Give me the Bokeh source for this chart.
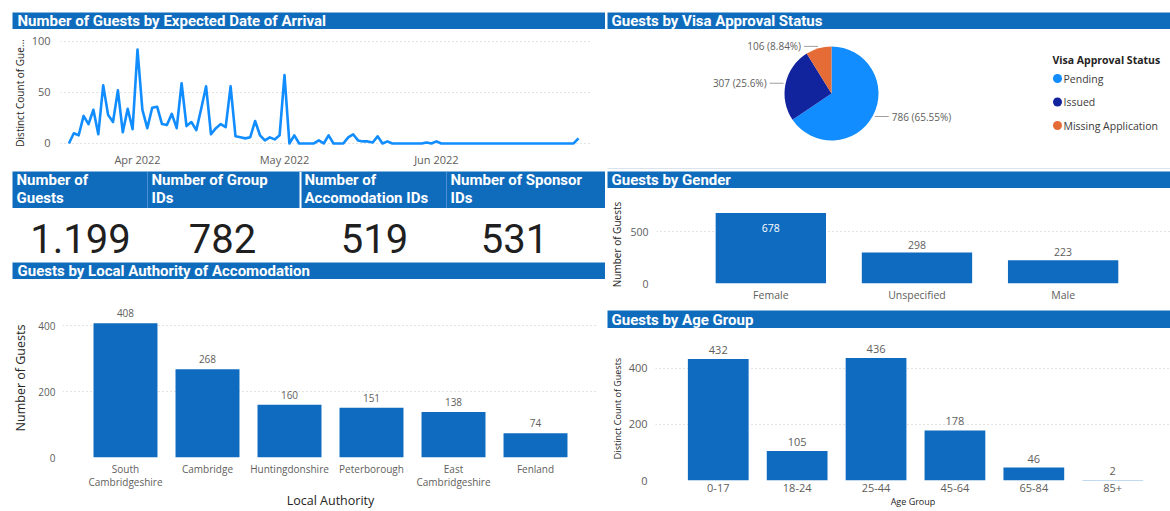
import numpy as np
import pandas as pd
from bokeh.plotting import figure
from bokeh.layouts import column, row
from bokeh.models import (ColumnDataSource, Range1d, FactorRange, FixedTicker,
                          DatetimeTickFormatter, LabelSet, Label, Span)
from bokeh.core.properties import value
from bokeh.embed import file_html
from bokeh.resources import INLINE

# ---------------- data ----------------
arrival_first_day = "2022-03-18"
arrival_guests = [
    0, 10, 8, 27, 19, 33, 9, 57, 28, 21, 52, 11, 34, 14,
    92, 33, 15, 35, 36, 19, 18, 29, 15, 59, 17, 21, 13, 34, 56,
    9, 15, 19, 16, 56, 7, 6, 5, 6, 22, 8, 3, 6, 4, 8, 67,
    0, 8, 0, 0, 0, 0, 3, 0, 8, 0, 0, 0, 6, 9, 3, 2, 2, 1, 7, 0, 2,
    0, 0, 0, 0, 0, 0, 0, 1, 0, 2,
    0, 0, 0, 0, 0, 0, 0, 0, 0, 0, 0, 0, 0, 0,
    0, 0, 0, 0, 0, 0, 0, 0, 0, 0, 0, 0, 0, 0, 5,
]
arrival_ticks = ["2022-04-01", "2022-05-01", "2022-06-01"]

visa_status = ["Pending", "Issued", "Missing Application"]
visa_guests = [786, 307, 106]

kpi_labels = ["Number of\nGuests", "Number of Group\nIDs",
              "Number of\nAccomodation IDs", "Number of Sponsor\nIDs"]
kpi_values = [1199, 782, 519, 531]

authorities = ["South Cambridgeshire", "Cambridge", "Huntingdonshire",
               "Peterborough", "East Cambridgeshire", "Fenland"]
authority_guests = [408, 268, 160, 151, 138, 74]

genders = ["Female", "Unspecified", "Male"]
gender_guests = [678, 298, 223]

age_groups = ["0-17", "18-24", "25-44", "45-64", "65-84", "85+"]
age_guests = [432, 105, 436, 178, 46, 2]

# ---------------- styles ----------------
visa_colors = ["#118DFF", "#12239E", "#E66C37"]
BLUE = "#0F6CBD"
BAR = "#0F6BBF"
LINE_BLUE = "#118DFF"
GRID = "#C8C6C4"
TICK = "#605E5C"
DARK = "#252423"
TITLE_FONT = "Roboto"
SMALL_FONT = "Open Sans"
FIG_KW = dict(output_backend="svg", toolbar_location=None, tools="", frame_align=False)
LEFT_W = 605
RIGHT_W = 563


def header(text, w, h, top=0, left=0, text_x=5):
    p = figure(width=w, height=h, x_range=(0, 1), y_range=(0, 1),
               x_axis_location=None, y_axis_location=None,
               min_border=0, min_border_top=top, min_border_left=left,
               min_border_right=0, min_border_bottom=0, **FIG_KW)
    p.grid.visible = False
    p.outline_line_color = None
    p.background_fill_color = BLUE
    p.border_fill_color = "white"
    p.add_layout(Label(x=text_x, y=(h - top) / 2, x_units="screen", y_units="screen",
                       text=text, text_color="white", text_font=TITLE_FONT,
                       text_font_size="15px", text_font_style="bold", text_baseline="middle"))
    return p


def style_axes(p, tick_size="10px", title_size="10px"):
    p.outline_line_color = None
    p.background_fill_color = "white"
    p.border_fill_color = "white"
    p.axis.axis_line_color = None
    p.axis.major_tick_line_color = None
    p.axis.minor_tick_line_color = None
    p.axis.major_tick_out = 0
    p.axis.major_tick_in = 0
    p.axis.major_label_text_color = TICK
    p.axis.major_label_text_font = SMALL_FONT
    p.axis.major_label_text_font_size = tick_size
    p.axis.axis_label_text_font = SMALL_FONT
    p.axis.axis_label_text_font_style = "normal"
    p.axis.axis_label_text_color = DARK
    p.axis.axis_label_text_font_size = title_size
    p.xgrid.grid_line_color = None
    p.ygrid.grid_line_color = GRID
    p.ygrid.grid_line_dash = "1 3"
    p.ygrid.grid_line_width = 1


def bar_labels(p, xs, vals, plot_h, y_end, font_size="10px", gap=4):
    offs, cols = [], []
    for v in vals:
        room = plot_h - v * plot_h / y_end
        if room < 16:
            offs.append(-19)
            cols.append("white")
        else:
            offs.append(gap)
            cols.append(TICK)
    src = ColumnDataSource(dict(x=xs, y=vals, t=[str(v) for v in vals], off=offs, col=cols))
    p.add_layout(LabelSet(x="x", y="y", text="t", source=src, y_offset="off",
                          text_color="col", text_align="center", text_baseline="bottom",
                          text_font=value(SMALL_FONT), text_font_size=value(font_size)))


# ================= LEFT COLUMN =================
h_arrival = header("Number of Guests by Expected Date of Arrival", LEFT_W, 29, top=12, left=12)

# ---- line chart ----
dates = pd.date_range(arrival_first_day, periods=len(arrival_guests), freq="D")
apr1 = pd.Timestamp(arrival_ticks[0])
PX_PER_DAY = 4.9
x_start = apr1 - pd.Timedelta(days=77 / PX_PER_DAY)
x_end = apr1 + pd.Timedelta(days=453 / PX_PER_DAY)
pl = figure(width=LEFT_W, height=142, x_axis_type="datetime",
            x_range=Range1d(x_start, x_end), y_range=Range1d(-6.9, 105.8),
            min_border=0, min_border_left=60, min_border_right=15,
            min_border_top=6, min_border_bottom=21, **FIG_KW)
pl.line(dates, arrival_guests, line_color=LINE_BLUE, line_width=2.6, line_join="round")
style_axes(pl, tick_size="11px", title_size="10px")
pl.xaxis.ticker = FixedTicker(ticks=[pd.Timestamp(t).value / 1e6 for t in arrival_ticks])
pl.xaxis.formatter = DatetimeTickFormatter(days="%b %Y", months="%b %Y", years="%b %Y")
pl.xaxis.major_label_standoff = 1
pl.yaxis.ticker = FixedTicker(ticks=[0, 50, 100])
pl.yaxis.major_label_standoff = 10
pl.yaxis.axis_label = "Distinct Count of Gue..."
pl.yaxis.axis_label_standoff = 2

# ---- KPI header ----
col_edges = [12, 147, 300, 446, 605]
value_centers = [80, 222, 374, 514]
kh = figure(width=LEFT_W, height=37, x_range=(12, LEFT_W), y_range=(0, 37),
            x_axis_location=None, y_axis_location=None, min_border=0,
            min_border_left=12, min_border_right=0, min_border_top=0, min_border_bottom=0, **FIG_KW)
kh.grid.visible = False
kh.outline_line_color = None
kh.background_fill_color = BLUE
kh.border_fill_color = "white"
kh.text(x=[e + 4 for e in col_edges[:-1]], y=[37.5] * len(kpi_labels), text=kpi_labels,
        text_color="white", text_font=value(TITLE_FONT), text_font_size="15px",
        text_font_style="bold", text_baseline="top", text_line_height=1.02)
kh.add_layout(Span(location=col_edges[1], dimension="height", line_color="#4B8FD2", line_width=1))
kh.add_layout(Span(location=col_edges[2], dimension="height", line_color="white", line_width=2))
kh.add_layout(Span(location=col_edges[3], dimension="height", line_color="#4B8FD2", line_width=1))

# ---- KPI values ----
kv = figure(width=LEFT_W, height=54, x_range=(12, LEFT_W), y_range=(0, 54),
            x_axis_location=None, y_axis_location=None, min_border=0,
            min_border_left=12, min_border_right=0, min_border_top=0, min_border_bottom=0, **FIG_KW)
kv.grid.visible = False
kv.outline_line_color = None
kv.text(x=value_centers, y=[24] * len(kpi_values),
        text=[f"{v:,}".replace(",", ".") for v in kpi_values],
        text_color="#1F1F1F", text_font=value(TITLE_FONT), text_font_size="40px",
        text_align="center", text_baseline="middle")

# ---- Local authority ----
h_la = header("Guests by Local Authority of Accomodation", LEFT_W, 17, top=0, left=12)
LA_TOP, LA_BOTTOM, LA_H = 19, 50, 232
LA_YEND = 483
la_factors = [a.replace(" ", "\n") for a in authorities]
pa = figure(width=LEFT_W, height=LA_H,
            x_range=FactorRange(factors=la_factors, range_padding=0.0894, range_padding_units="percent"),
            y_range=Range1d(0, LA_YEND), min_border=0, min_border_left=62, min_border_right=7,
            min_border_top=LA_TOP, min_border_bottom=LA_BOTTOM, **FIG_KW)
pa.vbar(x=la_factors, top=authority_guests, width=0.78, fill_color=BAR, line_color=None)
style_axes(pa, tick_size="10px", title_size="12.5px")
pa.xaxis.major_label_standoff = 4
pa.xaxis.major_label_text_line_height = 0.95
pa.xaxis.axis_label = "Local Authority"
pa.xaxis.axis_label_standoff = 0
pa.xaxis.axis_label_text_line_height = 0.9
pa.yaxis.ticker = FixedTicker(ticks=[0, 200, 400])
pa.yaxis.major_label_standoff = 7
pa.yaxis.axis_label = "Number of Guests"
pa.yaxis.axis_label_standoff = 6
bar_labels(pa, la_factors, authority_guests, LA_H - LA_TOP - LA_BOTTOM, LA_YEND, gap=6)

left = column(h_arrival, pl, kh, kv, h_la, pa, spacing=0)

# ================= RIGHT COLUMN =================
h_visa = header("Guests by Visa Approval Status", RIGHT_W, 29, top=12, left=0, text_x=4)

pp = figure(width=RIGHT_W, height=142, x_range=(0, RIGHT_W), y_range=(0, 142),
            x_axis_location=None, y_axis_location=None, min_border=0,
            min_border_left=0, min_border_right=0, min_border_top=0, min_border_bottom=0, **FIG_KW)
pp.grid.visible = False
pp.outline_line_color = None
CX, CY, R = 224, 78, 47
frac = np.array(visa_guests) / sum(visa_guests)
cum = np.concatenate([[0], np.cumsum(frac)])
start = np.pi / 2 - 2 * np.pi * cum[:-1]
end = np.pi / 2 - 2 * np.pi * cum[1:]
mid = (start + end) / 2
pie_src = ColumnDataSource(dict(start=start, end=end, color=visa_colors))
pp.wedge(x=CX, y=CY, radius=R, start_angle="start", end_angle="end", direction="clock",
         fill_color="color", line_color=None, source=pie_src)
ex = CX + (R + 2) * np.cos(mid)
ey = CY + (R + 2) * np.sin(mid)
side = np.where(np.cos(mid) >= 0, 1, -1)
lx = ex + side * 14
pp.segment(x0=ex, y0=ey, x1=lx, y1=ey, line_color="#A19F9D", line_width=1)


def pct_text(v, f):
    s = f"{f * 100:.2f}".rstrip("0").rstrip(".")
    return f"{v} ({s}%)"


labels = [pct_text(v, f) for v, f in zip(visa_guests, frac)]
for sgn, align in ((1, "left"), (-1, "right")):
    m = side == sgn
    if m.any():
        pp.text(x=(lx + sgn * 3)[m], y=ey[m], text=[l for l, k in zip(labels, m) if k],
                text_color=TICK, text_font=value(SMALL_FONT), text_font_size="10px",
                text_align=align, text_baseline="middle")
# legend
LEG_X, LEG_Y0, LEG_DY = 450, 93, 23.5
ly = LEG_Y0 - LEG_DY * np.arange(len(visa_status))
pp.scatter(x=[LEG_X] * len(visa_status), y=ly, size=9, fill_color=visa_colors, line_color=None)
pp.text(x=[LEG_X + 6] * len(visa_status), y=ly, text=visa_status, text_color="#3B3A39",
        text_font=value(SMALL_FONT), text_font_size="10.5px", text_baseline="middle")
pp.text(x=[445], y=[112], text=["Visa Approval Status"], text_color=DARK,
        text_font=value(SMALL_FONT), text_font_size="10.5px", text_font_style="bold",
        text_baseline="middle")
pp.add_layout(Span(location=3, dimension="width", line_color="#DDE3EA", line_width=1))

# ---- gender ----
h_gender = header("Guests by Gender", RIGHT_W, 17, top=0, left=0, text_x=4)
G_TOP, G_BOTTOM, G_H, G_YEND = 17, 27, 122, 750
gx = list(range(len(genders)))
pg = figure(width=RIGHT_W, height=G_H, x_range=Range1d((46 - 161) / 147, (RIGHT_W - 161) / 147),
            y_range=Range1d(0, G_YEND), min_border=0, min_border_left=46, min_border_right=0,
            min_border_top=G_TOP, min_border_bottom=G_BOTTOM, **FIG_KW)
pg.vbar(x=gx, top=gender_guests, width=0.755, fill_color=BAR, line_color=None)
style_axes(pg, tick_size="10.5px", title_size="10px")
pg.xaxis.ticker = FixedTicker(ticks=gx)
pg.xaxis.major_label_overrides = {i: g for i, g in zip(gx, genders)}
pg.xaxis.major_label_standoff = 4
pg.yaxis.ticker = FixedTicker(ticks=[0, 500])
pg.yaxis.major_label_standoff = 8
pg.yaxis.axis_label = "Number of Guests"
pg.yaxis.axis_label_standoff = 3
bar_labels(pg, gx, gender_guests, G_H - G_TOP - G_BOTTOM, G_YEND, font_size="10.5px", gap=4)

# ---- age ----
h_age = header("Guests by Age Group", RIGHT_W, 18, top=0, left=0, text_x=4)
A_TOP, A_BOTTOM, A_H, A_YEND = 8, 31, 183, 512
ax_ = list(range(len(age_groups)))
pg2 = figure(width=RIGHT_W, height=A_H, x_range=Range1d((46 - 109) / 79.2, (RIGHT_W - 109) / 79.2),
             y_range=Range1d(0, A_YEND), min_border=0, min_border_left=46, min_border_right=0,
             min_border_top=A_TOP, min_border_bottom=A_BOTTOM, **FIG_KW)
pg2.vbar(x=ax_, top=age_guests, width=0.77, fill_color=BAR, line_color=None)
style_axes(pg2, tick_size="11px", title_size="9px")
pg2.xaxis.ticker = FixedTicker(ticks=ax_)
pg2.xaxis.major_label_overrides = {i: g for i, g in zip(ax_, age_groups)}
pg2.xaxis.major_label_standoff = 3
pg2.xaxis.axis_label = "Age Group"
pg2.xaxis.axis_label_standoff = 0
pg2.yaxis.ticker = FixedTicker(ticks=[0, 200, 400])
pg2.yaxis.major_label_standoff = 8
pg2.yaxis.axis_label = "Distinct Count of Guests"
pg2.yaxis.axis_label_standoff = 2
bar_labels(pg2, ax_, age_guests, A_H - A_TOP - A_BOTTOM, A_YEND, font_size="11px", gap=5)

right = column(h_visa, pp, h_gender, pg, h_age, pg2, spacing=0)

layout = row(left, right, spacing=2)

open("out.html", "w").write(file_html(layout, INLINE))
